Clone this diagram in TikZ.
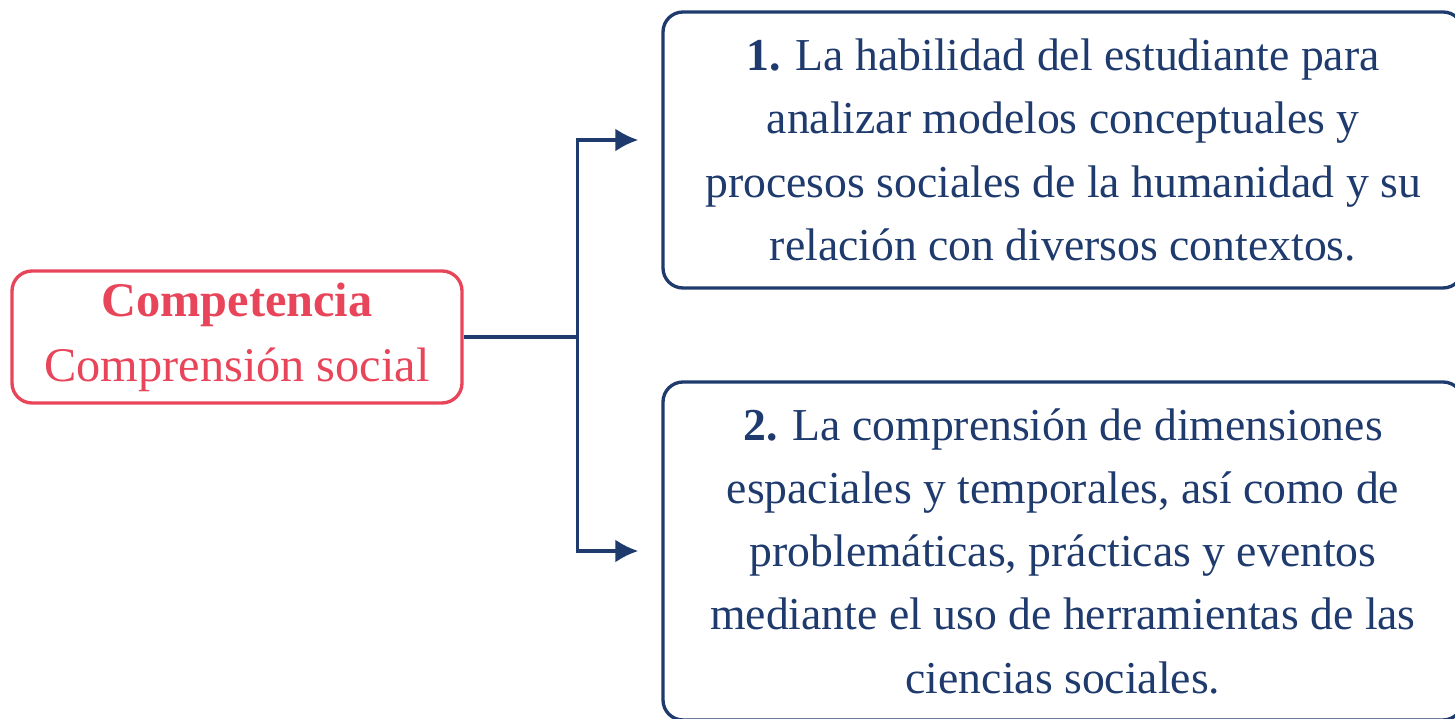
\documentclass[tikz,border=0pt]{standalone}
\usepackage{fontspec}
\setmainfont{Liberation Serif}
\usepackage{xcolor}
\usetikzlibrary{positioning, arrows.meta}
\definecolor{navy}{HTML}{1F3B6E}
\definecolor{rosso}{HTML}{E8455A}
\tikzset{
    block/.style={
        draw = navy, line width = 1.9pt,
        rounded corners = 0.4cm,
        text = navy,
        align = center,
        font = \fontsize{26}{36}\selectfont
    },
    comp/.style={
        draw = rosso, line width = 1.9pt,
        rounded corners = 0.4cm,
        text = rosso,
        minimum width = 9cm, minimum height = 2.64cm,
        align = center,
        font = \fontsize{27.5}{37}\selectfont
    },
    line/.style = {draw = navy, line width = 1.9pt, -{Latex[length=13pt,width=13pt]}}
}
\begin{document}
\begin{tikzpicture}

    \useasboundingbox (0,0) rectangle (29.1,14.38);
    \clip (0,0) rectangle (29.1,14.38);

    % Blocks
    \node[comp] (comp) at (4.74,7.64) {\textbf{Competencia}\\Comprensión social};
    \node[block, minimum width=16cm, minimum height=5.52cm] (hab) at (21.26,11.38)
        {\textbf{1.} La habilidad del estudiante para\\analizar modelos conceptuales y\\procesos sociales de la humanidad y su\\relación con diversos contextos.};
    \node[block, minimum width=16cm, minimum height=6.76cm] (dim) at (21.26,3.36)
        {\textbf{2.} La comprensión de dimensiones\\espaciales y temporales, así como de\\problemáticas, prácticas y eventos\\mediante el uso de herramientas de las\\ciencias sociales.};

    % Lines
    \coordinate (split) at ([xshift=2.28cm]comp.east);
    \draw[draw=navy, line width=1.9pt] (comp.east) -- (split);
    \draw[line] (split) |- ([xshift=-0.46cm, yshift=0.2cm]hab.west);
    \draw[line] (split) |- ([xshift=-0.46cm]dim.west);

\end{tikzpicture}
\end{document}
